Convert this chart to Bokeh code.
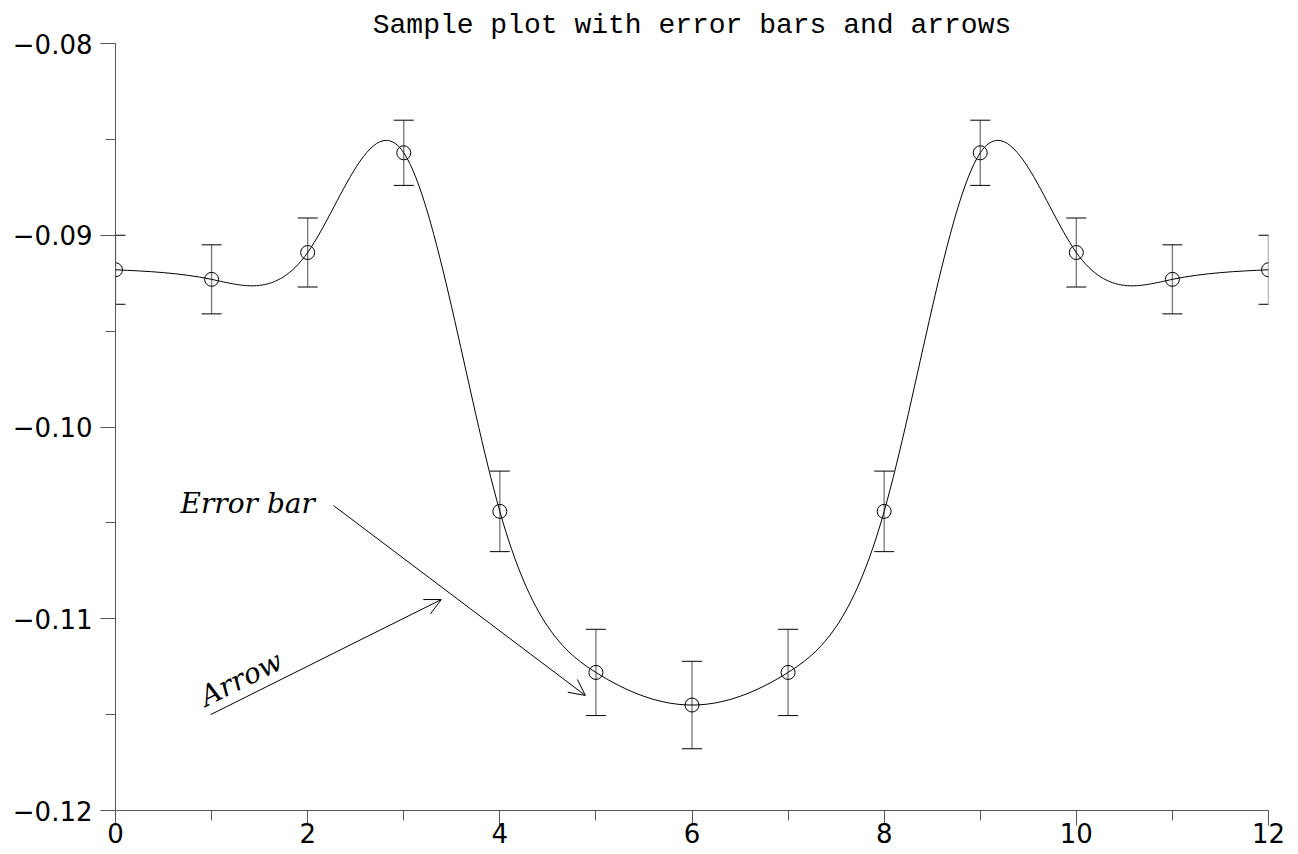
import numpy as np
from bokeh.plotting import figure
from bokeh.models import (ColumnDataSource, Whisker, TeeHead, Arrow, OpenHead, Label,
                          FixedTicker, CustomJSTickFormatter)
from bokeh.embed import file_html
from bokeh.resources import INLINE

# ---- data ----
x_vals = [0, 1, 2, 3, 4, 5, 6, 7, 8, 9, 10, 11, 12]
y_vals = [-0.0918, -0.0923, -0.0909, -0.0857, -0.1044, -0.1128, -0.1145,
          -0.1128, -0.1044, -0.0857, -0.0909, -0.0923, -0.0918]
y_err = [0.0018, 0.0018, 0.0018, 0.0017, 0.0021, 0.00225, 0.00228,
         0.00225, 0.0021, 0.0017, 0.0018, 0.0018, 0.0018]
x_major = [0, 2, 4, 6, 8, 10, 12]
x_minor = [1, 3, 5, 7, 9, 11]
y_major = [-0.12, -0.11, -0.10, -0.09, -0.08]
y_minor = [-0.115, -0.105, -0.095, -0.085]

title = "Sample plot with error bars and arrows"

# ---- natural cubic spline through the points, drawn as exact bezier segments ----
xa = np.array(x_vals, float)
ya = np.array(y_vals, float)
n = len(xa)
h = np.diff(xa)
A = np.zeros((n, n))
b = np.zeros(n)
A[0, 0] = 1
A[-1, -1] = 1
for i in range(1, n - 1):
    A[i, i - 1] = h[i - 1]
    A[i, i] = 2 * (h[i - 1] + h[i])
    A[i, i + 1] = h[i]
    b[i] = 6 * ((ya[i + 1] - ya[i]) / h[i] - (ya[i] - ya[i - 1]) / h[i - 1])
M = np.linalg.solve(A, b)
d0 = (ya[1:] - ya[:-1]) / h - h * (2 * M[:-1] + M[1:]) / 6
d1 = (ya[1:] - ya[:-1]) / h + h * (M[:-1] + 2 * M[1:]) / 6
bez = ColumnDataSource(dict(
    x0=xa[:-1], y0=ya[:-1], x1=xa[1:], y1=ya[1:],
    cx0=xa[:-1] + h / 3, cy0=ya[:-1] + h * d0 / 3,
    cx1=xa[1:] - h / 3, cy1=ya[1:] - h * d1 / 3,
))

src = ColumnDataSource(dict(x=x_vals, y=y_vals,
                            lo=[v - e for v, e in zip(y_vals, y_err)],
                            hi=[v + e for v, e in zip(y_vals, y_err)]))

p = figure(width=1298, height=854, output_backend="svg", toolbar_location=None,
           x_range=(0, 12), y_range=(-0.12, -0.08),
           min_border_left=115, min_border_right=30, min_border_top=43, min_border_bottom=44)
p.outline_line_color = None
p.grid.visible = False
p.background_fill_color = "white"

p.title.text = title
p.title.align = "center"
p.title.text_font = "Liberation Mono"
p.title.text_font_style = "normal"
p.title.text_font_size = "28px"
p.title.text_color = "black"
p.title.standoff = 6

for ax in (p.xaxis[0], p.yaxis[0]):
    ax.axis_line_color = "#555555"
    ax.major_tick_line_color = "#555555"
    ax.minor_tick_line_color = "#555555"
    ax.major_tick_out = 15
    ax.major_tick_in = 0
    ax.minor_tick_out = 10
    ax.minor_tick_in = 0
    ax.major_label_text_font = "DejaVu Sans"
    ax.major_label_text_font_size = "26px"
    ax.major_label_text_color = "black"

p.yaxis.major_label_standoff = 8
p.xaxis.major_label_standoff = -3

p.xaxis.ticker = FixedTicker(ticks=x_major, minor_ticks=x_minor)
p.yaxis.ticker = FixedTicker(ticks=y_major, minor_ticks=y_minor)
p.xaxis.formatter = CustomJSTickFormatter(code="return tick.toFixed(0);")
p.yaxis.formatter = CustomJSTickFormatter(
    code="return (tick < 0 ? '\u2212' : '') + Math.abs(tick).toFixed(2);")

# curve
p.bezier(x0="x0", y0="y0", x1="x1", y1="y1", cx0="cx0", cy0="cy0", cx1="cx1", cy1="cy1",
         source=bez, line_color="black", line_width=1)

# error bars
w = Whisker(source=src, base="x", lower="lo", upper="hi",
            line_color="#777777", line_width=1.3,
            lower_head=TeeHead(size=20, line_color="black", line_width=1),
            upper_head=TeeHead(size=20, line_color="black", line_width=1))
p.add_layout(w)

# markers
p.scatter("x", "y", source=src, marker="circle", size=14, fill_color=None,
          line_color="black", line_width=1)

# arrows and labels
p.add_layout(Arrow(x_start=0.99, y_start=-0.1150, x_end=3.39, y_end=-0.1090,
                   line_color="black", line_width=1,
                   end=OpenHead(size=16, line_color="black", line_width=1)))
p.add_layout(Arrow(x_start=2.27, y_start=-0.1041, x_end=4.89, y_end=-0.1140,
                   line_color="black", line_width=1,
                   end=OpenHead(size=16, line_color="black", line_width=1)))
p.add_layout(Label(x=0.677, y=-0.1040, text="Error bar", text_font="DejaVu Serif",
                   text_font_style="italic", text_font_size="28px", text_color="black",
                   text_baseline="alphabetic"))
p.add_layout(Label(x=0.90, y=-0.11415, text="Arrow", text_font="DejaVu Serif",
                   text_font_style="italic", text_font_size="28px", text_color="black",
                   angle=26.5, angle_units="deg", text_baseline="alphabetic"))

open("out.html", "w").write(file_html(p, INLINE))
